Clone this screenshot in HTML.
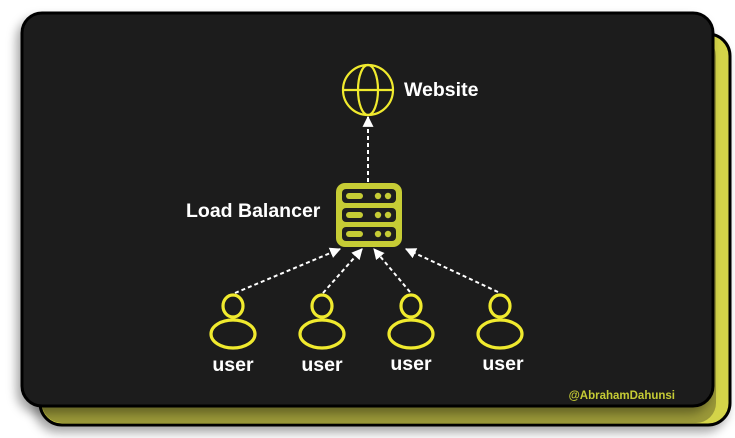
<!DOCTYPE html>
<html><head><style>
html,body{margin:0;padding:0;background:#fff;width:735px;height:438px;overflow:hidden}
</style></head><body>
<svg width="735" height="438" viewBox="0 0 735 438" xmlns="http://www.w3.org/2000/svg" font-family="Liberation Sans, sans-serif" font-weight="bold">
<defs>
<filter id="sh" x="-10%" y="-10%" width="120%" height="125%"><feDropShadow dx="-4" dy="6" stdDeviation="5" flood-color="#000" flood-opacity="0.35"/></filter>
<marker id="ah" viewBox="0 0 10 10" refX="9" refY="5" markerWidth="11" markerHeight="11" markerUnits="userSpaceOnUse" orient="auto"><path d="M0,0 L10,5 L0,10 z" fill="#fff"/></marker>
</defs>
<rect x="40" y="34" width="690" height="391" rx="22" fill="#d4d44a" stroke="#000" stroke-width="3" filter="url(#sh)"/>
<rect x="42" y="36" width="674" height="387" rx="20" fill="#9a9838"/>
<rect x="22" y="13" width="691" height="393" rx="20" fill="#1e1e1e" stroke="#000" stroke-width="3" filter="url(#sh)"/>
<!-- globe -->
<g fill="none" stroke="#f0ea2e" stroke-width="2.2">
<circle cx="368" cy="90" r="25"/>
<ellipse cx="368" cy="90" rx="10" ry="25"/>
<line x1="343" y1="90" x2="393" y2="90"/>
</g>
<text x="404" y="96" fill="#fff" font-size="19.5">Website</text>
<line x1="368" y1="182" x2="368" y2="117" stroke="#fff" stroke-width="2" stroke-dasharray="4,3" marker-end="url(#ah)"/>
<!-- server -->
<rect x="336" y="183" width="66" height="64" rx="9" fill="#c6cc35"/>
<g fill="#1e1e1e">
<rect x="342" y="189" width="54" height="14" rx="4"/>
<rect x="342" y="208" width="54" height="14" rx="4"/>
<rect x="342" y="227" width="54" height="14" rx="4"/>
</g>
<g fill="#c6cc35">
<rect x="346" y="193" width="17" height="6" rx="3"/><circle cx="378" cy="196" r="3.2"/><circle cx="388" cy="196" r="3.2"/>
<rect x="346" y="212" width="17" height="6" rx="3"/><circle cx="378" cy="215" r="3.2"/><circle cx="388" cy="215" r="3.2"/>
<rect x="346" y="231" width="17" height="6" rx="3"/><circle cx="378" cy="234" r="3.2"/><circle cx="388" cy="234" r="3.2"/>
</g>
<text x="186" y="217" fill="#fff" font-size="19.5">Load Balancer</text>
<!-- arrows -->
<g stroke="#fff" stroke-width="2" stroke-dasharray="4,3" marker-end="url(#ah)">
<line x1="235" y1="293" x2="340" y2="249"/>
<line x1="323" y1="293" x2="362" y2="249"/>
<line x1="410" y1="292" x2="374" y2="249"/>
<line x1="498" y1="292" x2="406" y2="249"/>
</g>
<!-- users -->
<g fill="none" stroke="#f0ea2e" stroke-width="3.2">
<ellipse cx="233" cy="306" rx="10" ry="11"/><ellipse cx="233" cy="334" rx="22" ry="14"/>
<ellipse cx="322" cy="306" rx="10" ry="11"/><ellipse cx="322" cy="334" rx="22" ry="14"/>
<ellipse cx="411" cy="306" rx="10" ry="11"/><ellipse cx="411" cy="334" rx="22" ry="14"/>
<ellipse cx="500" cy="306" rx="10" ry="11"/><ellipse cx="500" cy="334" rx="22" ry="14"/>
</g>
<g fill="#fff" font-size="19.5" text-anchor="middle">
<text x="233" y="371">user</text>
<text x="322" y="371">user</text>
<text x="411" y="370">user</text>
<text x="503" y="370">user</text>
</g>
<text x="675" y="399" fill="#c6cc35" font-size="11.5" text-anchor="end">@AbrahamDahunsi</text>
</svg>
</body></html>
